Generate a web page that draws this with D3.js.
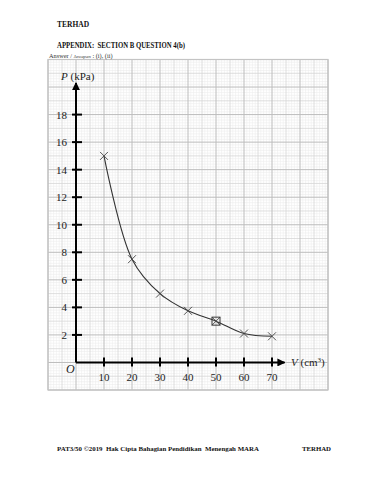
<!DOCTYPE html>
<html><head><meta charset="utf-8">
<script src="https://cdn.jsdelivr.net/npm/d3@7"></script>
<style>body{margin:0;background:#fff}svg{display:block}</style>
</head><body>
<script>
const volumes = [10, 20, 30, 40, 50, 60, 70];
const pressures = [15, 7.5, 5, 3.75, 3, 2.1, 1.9];
const markerTypes = ["x", "x", "x", "x", "square", "x", "x"];
const xTicks = [10, 20, 30, 40, 50, 60, 70];
const yTicks = [2, 4, 6, 8, 10, 12, 14, 16, 18];

const W = 370, H = 480;
const svg = d3.select("body").append("svg").attr("width", W).attr("height", H);
const serif = "'Liberation Serif', 'DejaVu Serif', serif";

const x = d3.scaleLinear().domain([-10, 90]).range([48, 328]);
const y = d3.scaleLinear().domain([-2, 22]).range([390, 59.5]);

// graph paper
const g = svg.append("g");
function vline(v, c, w) { g.append("line").attr("x1", x(v)).attr("x2", x(v)).attr("y1", y(-2)).attr("y2", y(22)).attr("stroke", c).attr("stroke-width", w); }
function hline(v, c, w) { g.append("line").attr("y1", y(v)).attr("y2", y(v)).attr("x1", x(-10)).attr("x2", x(90)).attr("stroke", c).attr("stroke-width", w); }
for (let v = -10; v <= 90; v += 1) { if (v % 5 !== 0) vline(v, "#ececec", 0.6); }
for (let k = -10; k <= 110; k += 1) { const v = k / 5; if (k % 5 !== 0) hline(v, "#ececec", 0.6); }
for (let v = -5; v <= 90; v += 10) vline(v, "#d6d6d6", 0.8);
for (let v = -1; v <= 22; v += 2) hline(v, "#d6d6d6", 0.8);
for (let v = -10; v <= 90; v += 10) vline(v, "#bcbcbc", 1);
for (let v = -2; v <= 22; v += 2) hline(v, "#bcbcbc", 1);
g.append("rect").attr("x", x(-10)).attr("y", y(22)).attr("width", x(90) - x(-10)).attr("height", y(-2) - y(22))
  .attr("fill", "none").attr("stroke", "#c4c4c4").attr("stroke-width", 1.2);

// axes
svg.append("defs").append("marker").attr("id", "arr").attr("viewBox", "0 0 10 10").attr("refX", 9).attr("refY", 5)
  .attr("markerWidth", 4).attr("markerHeight", 4).attr("orient", "auto")
  .append("path").attr("d", "M0,0 L10,5 L0,10 z").attr("fill", "#000");
svg.append("line").attr("x1", x(0)).attr("x2", x(0)).attr("y1", y(0)).attr("y2", y(20.3))
  .attr("stroke", "#000").attr("stroke-width", 2).attr("marker-end", "url(#arr)");
svg.append("line").attr("x1", x(0)).attr("x2", x(74.5)).attr("y1", y(0)).attr("y2", y(0))
  .attr("stroke", "#000").attr("stroke-width", 2).attr("marker-end", "url(#arr)");

// ticks
svg.selectAll(".yt").data(yTicks).enter().append("line")
  .attr("x1", x(0) - 4).attr("x2", x(0) + 6).attr("y1", d => y(d)).attr("y2", d => y(d))
  .attr("stroke", "#000").attr("stroke-width", 2);
svg.selectAll(".xt").data(xTicks).enter().append("line")
  .attr("y1", y(0) - 5).attr("y2", y(0) + 4).attr("x1", d => x(d)).attr("x2", d => x(d))
  .attr("stroke", "#000").attr("stroke-width", 2);
svg.selectAll(".yl").data(yTicks).enter().append("text")
  .attr("x", x(0) - 9).attr("y", d => y(d) + 4).attr("text-anchor", "end")
  .attr("font-family", serif).attr("font-size", 11).attr("fill", "#222").text(d => d);
svg.selectAll(".xl").data(xTicks).enter().append("text")
  .attr("x", d => x(d)).attr("y", y(0) + 19).attr("text-anchor", "middle")
  .attr("font-family", serif).attr("font-size", 11).attr("fill", "#222").text(d => d);
svg.append("text").attr("x", 66).attr("y", 373).attr("font-family", serif).attr("font-style", "italic")
  .attr("font-size", 12).attr("fill", "#222").text("O");

// axis labels
const pl = svg.append("text").attr("x", 61).attr("y", 80).attr("font-family", serif).attr("font-size", 11).attr("fill", "#222");
pl.append("tspan").attr("font-style", "italic").text("P");
pl.append("tspan").text(" (kPa)");
const vl = svg.append("text").attr("x", 291).attr("y", 366).attr("font-family", serif).attr("font-size", 11).attr("fill", "#222");
vl.append("tspan").attr("font-style", "italic").text("V");
vl.append("tspan").text(" (cm");
vl.append("tspan").attr("font-size", 7).attr("dy", -4).text("3");
vl.append("tspan").attr("dy", 4).text(")");

// curve
const pts = volumes.map((v, i) => [v, pressures[i]]);
svg.append("path").datum(pts)
  .attr("d", d3.line().x(d => x(d[0])).y(d => y(d[1])).curve(d3.curveCatmullRom.alpha(0.5)))
  .attr("fill", "none").attr("stroke", "#333").attr("stroke-width", 1.1);

// markers
const mk = svg.selectAll(".mk").data(pts).enter().append("g")
  .attr("transform", d => `translate(${x(d[0])},${y(d[1])})`);
mk.append("path").attr("d", "M-4,-4 L4,4 M-4,4 L4,-4").attr("stroke", "#444").attr("stroke-width", 0.9);
mk.filter((d, i) => markerTypes[i] === "square").append("rect")
  .attr("x", -4).attr("y", -4).attr("width", 8).attr("height", 8)
  .attr("fill", "none").attr("stroke", "#333").attr("stroke-width", 1);

// page texts
svg.append("text").attr("x", 57).attr("y", 27).attr("font-family", serif).attr("font-weight", "bold")
  .attr("font-size", 7.5).attr("fill", "#111").text("TERHAD");
svg.append("text").attr("x", 57).attr("y", 48).attr("font-family", serif).attr("font-weight", "bold")
  .attr("font-size", 7.5).attr("fill", "#111").attr("textLength", 128).attr("lengthAdjust", "spacingAndGlyphs")
  .attr("xml:space", "preserve").text("APPENDIX:  SECTION B QUESTION 4(b)");
const ans = svg.append("text").attr("x", 49).attr("y", 57.5).attr("font-family", serif)
  .attr("font-size", 6.3).attr("fill", "#333");
ans.append("tspan").text("Answer / ");
ans.append("tspan").attr("font-style", "italic").attr("font-size", 4.8).text("Jawapan");
ans.append("tspan").text(" : (i), (ii)");
svg.append("text").attr("x", 57).attr("y", 451).attr("font-family", serif).attr("font-weight", "bold")
  .attr("font-size", 6.8).attr("fill", "#111").attr("xml:space", "preserve")
  .attr("textLength", 202).attr("lengthAdjust", "spacingAndGlyphs")
  .text("PAT3/50 ©2019  Hak Cipta Bahagian Pendidikan  Menengah MARA");
svg.append("text").attr("x", 331).attr("y", 451).attr("text-anchor", "end").attr("font-family", serif).attr("font-weight", "bold")
  .attr("font-size", 6.8).attr("fill", "#111").text("TERHAD");
</script>
</body></html>
